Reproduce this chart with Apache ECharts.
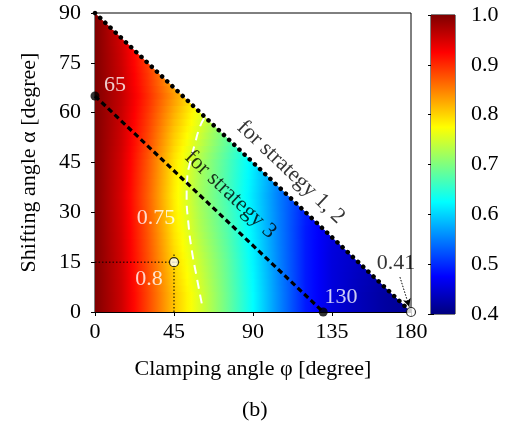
<!DOCTYPE html>
<html>
<head>
<meta charset="utf-8">
<script src="https://cdn.jsdelivr.net/npm/echarts@6/dist/echarts.min.js"></script>
<style>
html, body { margin: 0; padding: 0; background: #fff; }
#chart { width: 520px; height: 421px; }
</style>
</head>
<body>
<div id="chart"></div>
<script>
// value grid: one row per alpha band, columns at phi = 0, 15, 30, ...
const phiStep = 15
const rowAlpha = [5, 15, 25, 35, 45, 55, 65, 75, 85]
const eff05 = [1.00, 0.955, 0.885, 0.81, 0.752, 0.69, 0.625, 0.555, 0.49, 0.455, 0.435, 0.42, 0.41]
const eff15 = [1.00, 0.953, 0.88, 0.80, 0.742, 0.685, 0.62, 0.552, 0.49, 0.455, 0.44, 0.425]
const eff25 = [1.00, 0.95, 0.875, 0.79, 0.728, 0.675, 0.615, 0.55, 0.49, 0.457, 0.44]
const eff35 = [1.00, 0.948, 0.87, 0.785, 0.72, 0.668, 0.61, 0.548, 0.495, 0.465]
const eff45 = [1.00, 0.95, 0.875, 0.79, 0.725, 0.672, 0.615, 0.555, 0.50]
const eff55 = [1.00, 0.955, 0.888, 0.81, 0.75, 0.69, 0.635]
const eff65 = [1.00, 0.96, 0.90, 0.835, 0.77, 0.71]
const eff75 = [1.00, 0.955, 0.89, 0.81, 0.75]
const eff85 = [1.00, 0.95, 0.88]
const effRows = [eff05, eff15, eff25, eff35, eff45, eff55, eff65, eff75, eff85]

// 0.75 contour (phi, alpha)
const contour075 = [[60.8, 2.6], [57.9, 10.6], [55.1, 18.7], [53.2, 26.7], [52.2, 34.7],
  [52.6, 40.7], [54.1, 44.8], [57, 50.8], [59.8, 55.8], [62.7, 58.8]]

const limitLine = [[0, 90], [180, 0]]      // strategy 1, 2
const strategy3Line = [[0, 65], [130, 0]]  // strategy 3
const strategy3Ends = [[0, 65], [130, 0]]
const openPoints = [[45, 15], [180, 0]]
const guideH = [[0, 15], [48, 15]]
const guideV = [[45, 0], [45, 17.5]]
const arrow041 = [[173.7, 10.5], [179, 1.6]]

const xTicks = { min: 0, max: 180, interval: 45 }
const yTicks = { min: 0, max: 90, interval: 15 }
const cbarTicks = { min: 0.4, max: 1.0, interval: 0.1 }

const jetColors = ['#00007f', '#0000ff', '#007fff', '#00ffff', '#7fff7f',
  '#ffff00', '#ff7f00', '#ff0000', '#7f0000']

const FONT = 'Liberation Serif'
const FS = 22

function jet(v) {
  const t = Math.min(1, Math.max(0, (v - cbarTicks.min) / (cbarTicks.max - cbarTicks.min)))
  return echarts.color.lerp(t, jetColors)
}

function valAt(row, phi) {
  const idx = phi / phiStep
  const i = Math.floor(idx)
  if (i >= row.length - 1) return row[row.length - 1]
  const w = idx - i
  return row[i] * (1 - w) + row[i + 1] * w
}

const bandStep = 2
const bandData = []
for (let a = 0; a < 90; a += bandStep) bandData.push([0, a])

function renderBand(params, api) {
  const lo = api.value(1)
  const hi = Math.min(90, lo + bandStep + 0.8)
  const c = lo + bandStep / 2
  let i, w
  if (c <= rowAlpha[0]) { i = 0; w = 0 }
  else if (c >= rowAlpha[rowAlpha.length - 1]) { i = rowAlpha.length - 2; w = 1 }
  else { i = Math.floor((c - rowAlpha[0]) / 10); w = (c - rowAlpha[i]) / 10 }
  const phiMax = 180 - 2 * lo
  const stops = []
  for (let p = 0; p <= phiMax + 0.01; p += 2.5) {
    const v = valAt(effRows[i], p) * (1 - w) + valAt(effRows[i + 1], p) * w
    stops.push({ offset: p / 180, color: jet(v) })
  }
  const x0 = api.coord([0, 0])[0]
  const x1 = api.coord([180, 0])[0]
  const pts = [api.coord([0, lo]), api.coord([180 - 2 * lo, lo]),
    api.coord([180 - 2 * hi, hi]), api.coord([0, hi])]
  return {
    type: 'polygon',
    shape: { points: pts },
    style: { fill: new echarts.graphic.LinearGradient(x0, 0, x1, 0, stops, true) },
  }
}

function renderColorbar(params, api) {
  const p0 = api.coord([0, cbarTicks.max])
  const p1 = api.coord([1, cbarTicks.min])
  const stops = jetColors.map((col, k) => ({ offset: 1 - k / (jetColors.length - 1), color: col }))
  return {
    type: 'rect',
    shape: { x: p0[0], y: p0[1], width: p1[0] - p0[0], height: p1[1] - p0[1] },
    style: { fill: new echarts.graphic.LinearGradient(0, 0, 0, 1, stops) },
  }
}

const textStyle = { fontFamily: FONT, fontSize: FS, color: '#000' }

function note(text, pos, color, rotate) {
  return {
    value: pos,
    label: {
      show: true, formatter: text, position: 'inside', rotate: rotate || 0,
      color, fontFamily: FONT, fontSize: FS, align: 'center', verticalAlign: 'middle',
    },
  }
}

const chart = echarts.init(document.getElementById('chart'))
chart.setOption({
  animation: false,
  title: {
    text: '(b)', left: 237, top: 394,
    textStyle: { fontFamily: FONT, fontSize: FS, fontWeight: 'normal', color: '#000' },
  },
  grid: [
    { left: 95, top: 13, width: 316, height: 299, show: true, borderColor: '#000', borderWidth: 1 },
    { left: 431, top: 15, width: 24, height: 299, show: true, borderColor: '#000', borderWidth: 1 },
  ],
  xAxis: [
    {
      gridIndex: 0, type: 'value', ...xTicks,
      name: 'Clamping angle φ [degree]', nameLocation: 'middle', nameGap: 46,
      nameTextStyle: textStyle,
      axisLine: { lineStyle: { color: '#000', width: 1 } },
      axisTick: { length: 4, lineStyle: { color: '#000' } },
      axisLabel: { ...textStyle, margin: 9 },
      splitLine: { show: false },
    },
    { gridIndex: 1, type: 'value', min: 0, max: 1, show: false },
  ],
  yAxis: [
    {
      gridIndex: 0, type: 'value', ...yTicks,
      name: 'Shifting angle α [degree]', nameLocation: 'middle', nameGap: 55,
      nameTextStyle: textStyle,
      axisLine: { show: true, lineStyle: { color: '#000', width: 1 } },
      axisTick: { show: true, length: 4, lineStyle: { color: '#000' } },
      axisLabel: { ...textStyle, margin: 14 },
      splitLine: { show: false },
    },
    {
      gridIndex: 1, type: 'value', ...cbarTicks, position: 'right',
      axisLine: { show: false },
      axisTick: { show: true, inside: true, length: 3, lineStyle: { color: '#000' } },
      axisLabel: { ...textStyle, margin: 16, formatter: v => v.toFixed(1) },
      splitLine: { show: false },
    },
    {
      gridIndex: 1, type: 'value', ...cbarTicks, position: 'left',
      axisLine: { show: false },
      axisTick: { show: true, inside: true, length: 3, lineStyle: { color: '#000' } },
      axisLabel: { show: false },
      splitLine: { show: false },
    },
  ],
  series: [
    {
      type: 'custom', xAxisIndex: 0, yAxisIndex: 0, z: 1,
      renderItem: renderBand, data: bandData, encode: { x: 0, y: 1 }, silent: true,
    },
    {
      type: 'custom', xAxisIndex: 1, yAxisIndex: 1, z: 1,
      renderItem: renderColorbar, data: [[0, cbarTicks.min]], encode: { x: 0, y: 1 }, silent: true,
    },
    {
      type: 'line', data: contour075, smooth: true, symbol: 'none', z: 3,
      lineStyle: { color: '#fff', width: 2, type: [9, 6] },
    },
    {
      type: 'line', data: guideH, symbol: 'none', z: 3,
      lineStyle: { color: '#000', width: 1, type: [1.5, 2] },
    },
    {
      type: 'line', data: guideV, symbol: 'none', z: 3,
      lineStyle: { color: '#000', width: 1, type: [1.5, 2] },
    },
    {
      type: 'line', data: limitLine, symbol: 'none', z: 4,
      lineStyle: { color: '#000', width: 4.5, type: [0.1, 7], cap: 'round' },
    },
    {
      type: 'line', data: strategy3Line, symbol: 'none', z: 4,
      lineStyle: { color: '#000', width: 3.2, type: [5.5, 3.5] },
    },
    {
      type: 'scatter', data: strategy3Ends, symbolSize: 9, z: 5, clip: false,
      itemStyle: { color: '#000' },
    },
    {
      type: 'scatter', data: openPoints, symbolSize: 9, z: 5, clip: false,
      itemStyle: { color: '#fff', borderColor: '#000', borderWidth: 1.2 },
      markLine: {
        silent: true, symbol: ['none', 'arrow'], symbolSize: [6, 8], z: 4,
        label: { show: false },
        lineStyle: { color: '#000', width: 1, type: [1.5, 1.5] },
        data: [[{ coord: arrow041[0] }, { coord: arrow041[1] }]],
      },
    },
    {
      type: 'scatter', symbolSize: 0, z: 6, silent: true, clip: false,
      data: [
        note('65', [11.4, 68.3], '#fff'),
        note('130', [140.1, 4.5], '#fff'),
        note('0.75', [34.7, 28.3], '#fff'),
        note('0.8', [30.8, 9.9], '#fff'),
        note('0.41', [171.5, 14.7], '#000'),
        note('for strategy 1, 2', [111.6, 42.1], '#000', -43.4),
        note('for strategy 3', [77.2, 35.4], '#000', -43.5),
      ],
    },
  ],
})
</script>
</body>
</html>
